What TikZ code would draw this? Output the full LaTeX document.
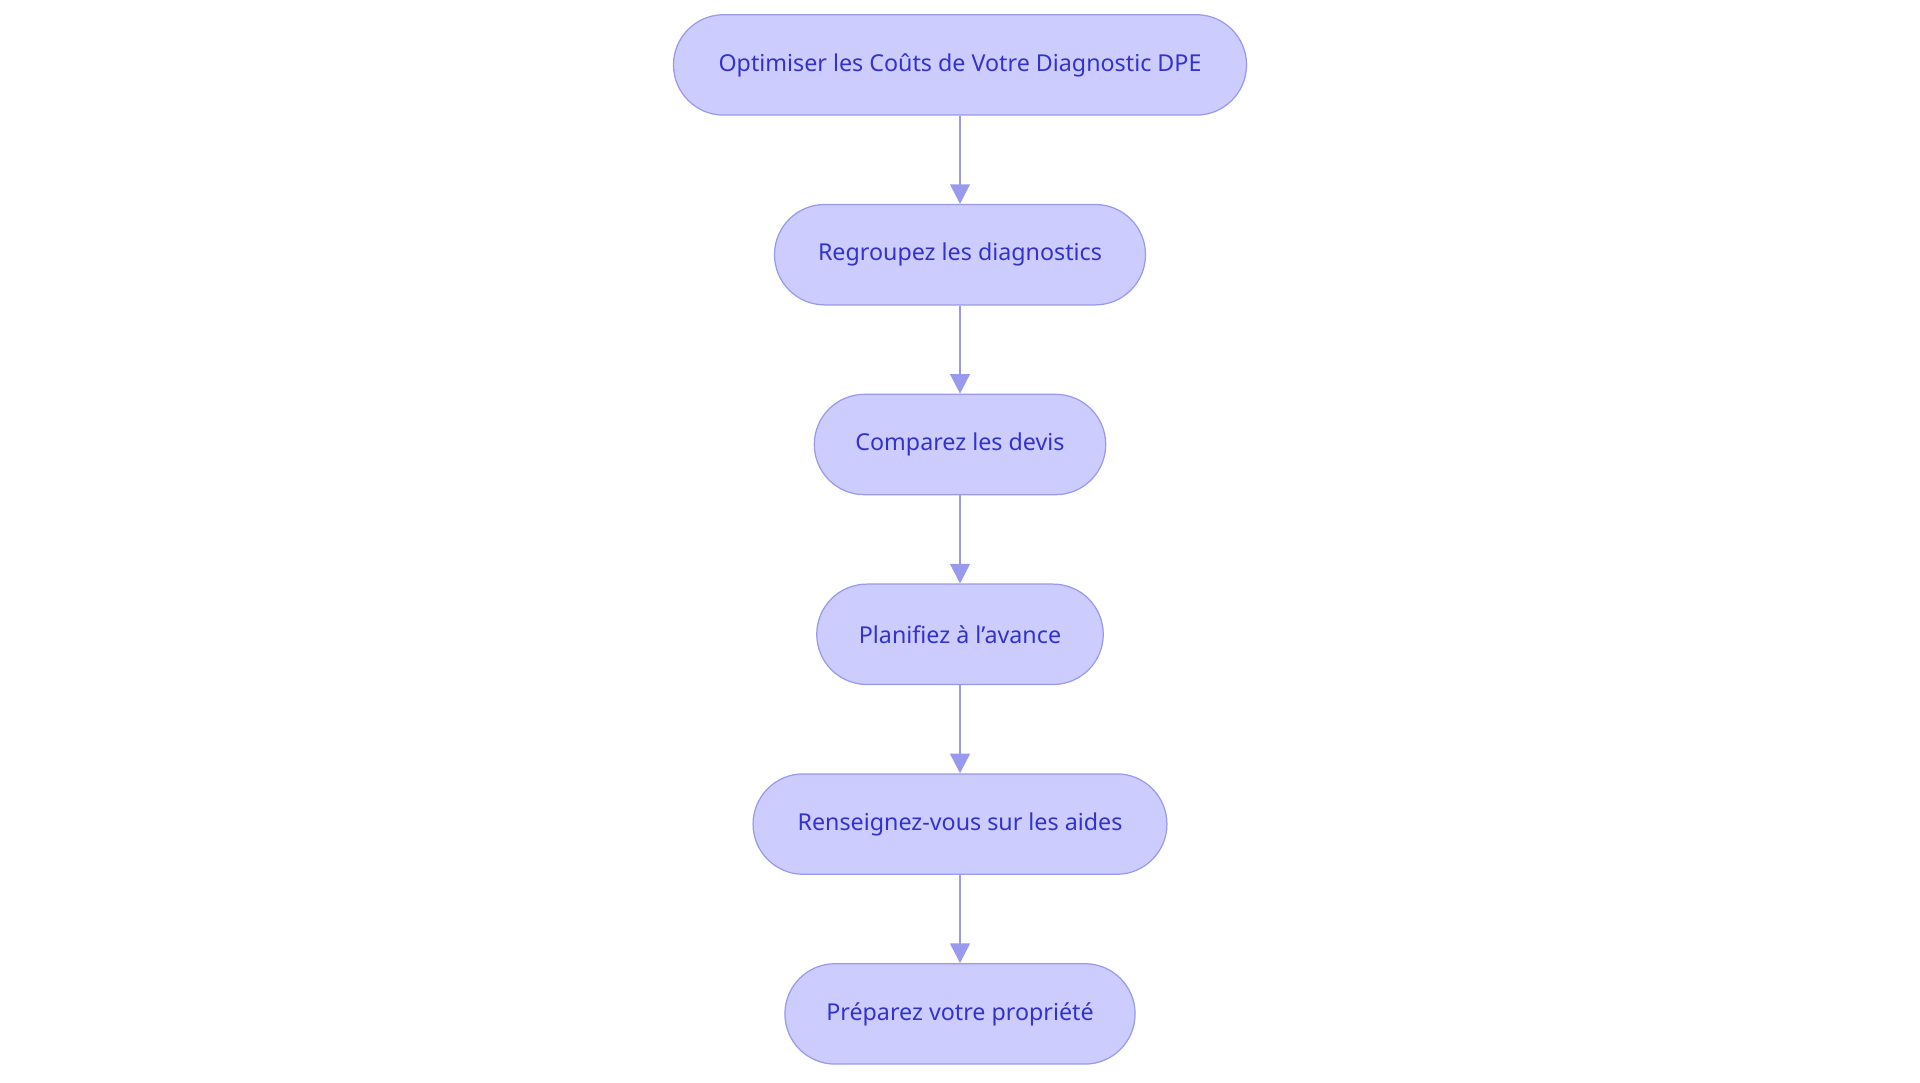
\documentclass[tikz,border=0pt]{standalone}
\usepackage{fontspec}
\setmainfont{Noto Sans}
\usetikzlibrary{arrows.meta}
\definecolor{fillc}{HTML}{CCCCFF}
\definecolor{linec}{HTML}{9999EE}
\definecolor{textc}{HTML}{3333CC}
\begin{document}
\begin{tikzpicture}[x=1pt,y=-1pt,
  box/.style={draw=linec,fill=fillc,line width=1pt,rounded corners=41pt,minimum height=82pt,text=textc,font=\fontsize{19}{22}\selectfont,inner sep=0pt},
  arr/.style={draw=linec,line width=2pt,-{Triangle[length=16pt,width=16pt]}}]
\useasboundingbox (0,0) rectangle (1568,884);
\node[box,minimum width=468pt] (a) at (784,53) {Optimiser les Coûts de Votre Diagnostic DPE};
\node[box,minimum width=303pt] (b) at (784,208) {Regroupez les diagnostics};
\node[box,minimum width=238pt] (c) at (784,363) {Comparez les devis};
\node[box,minimum width=234pt] (d) at (784,518) {Planifiez à l'avance};
\node[box,minimum width=338pt] (e) at (784,673) {Renseignez-vous sur les aides};
\node[box,minimum width=286pt] (f) at (784,828) {Préparez votre propriété};
\draw[arr] (a) -- (b);
\draw[arr] (b) -- (c);
\draw[arr] (c) -- (d);
\draw[arr] (d) -- (e);
\draw[arr] (e) -- (f);
\end{tikzpicture}
\end{document}
